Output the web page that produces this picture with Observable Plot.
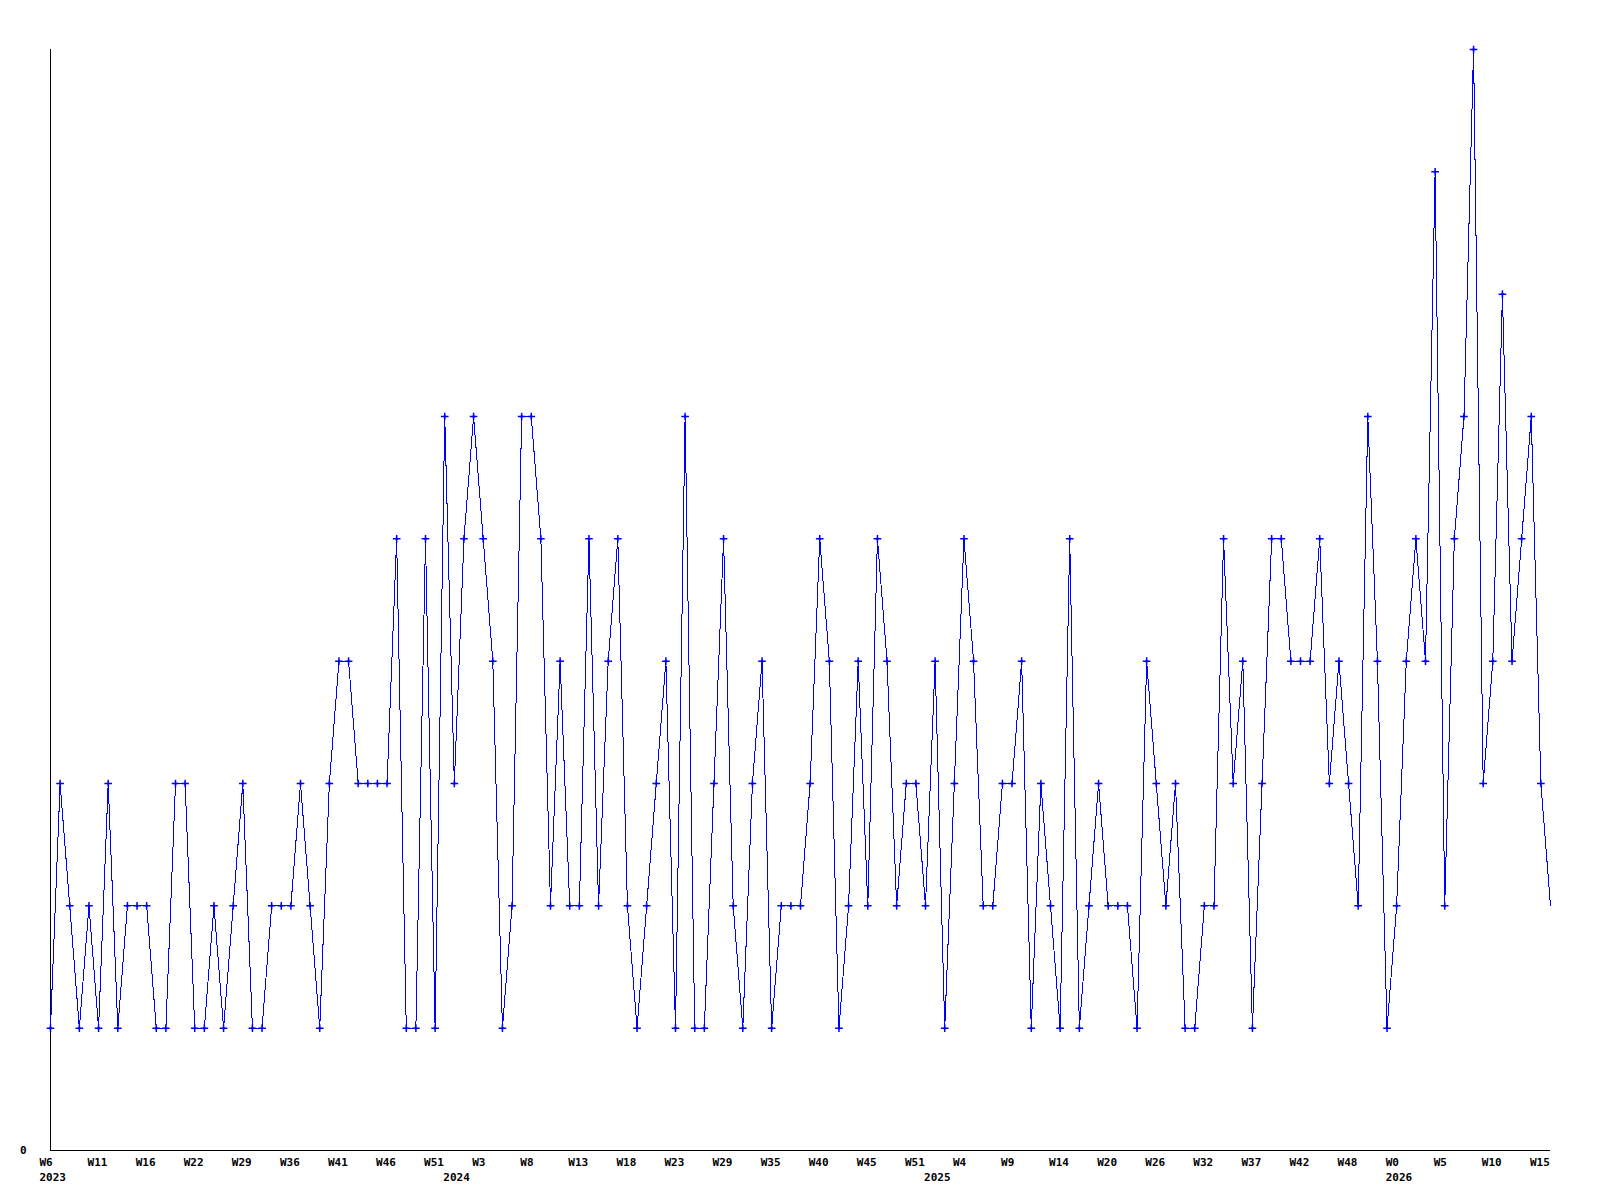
<!DOCTYPE html>
<html><head><meta charset="utf-8">
<script src="https://cdn.jsdelivr.net/npm/d3@7"></script>
<script src="https://cdn.jsdelivr.net/npm/@observablehq/plot@0.6"></script>
<style>html,body{margin:0;padding:0;background:#fff;} #chart svg{display:block}</style>
</head><body><div id="chart"></div>
<script>
// weekly counts, 2023 W6 .. 2026 W16
const counts = [
  1,3,2,1,2,1,3,1,2,2, 2,1,1,3,3,1,1,2,1,2,
  3,1,1,2,2,2,3,2,1,3, 4,4,3,3,3,3,5,1,1,5,
  1,6,3,5,6,5,4,1,2,6, 6,5,2,4,2,2,5,2,4,5,
  2,1,2,3,4,1,6,1,1,3, 5,2,1,3,4,1,2,2,2,3,
  5,4,1,2,4,2,5,4,2,3, 3,2,4,1,3,5,4,2,2,3,
  3,4,1,3,2,1,5,1,2,3, 2,2,2,1,4,3,2,3,1,1,
  2,2,5,3,4,1,3,5,5,4, 4,4,5,3,4,3,2,6,4,1,
  2,4,5,4,8,2,5,6,9,3, 4,7,4,5,6,3,2
];
const weekLabels = ["W6","W11","W16","W22","W29","W36","W41","W46","W51","W3",
  "W8","W13","W18","W23","W29","W35","W40","W45","W51","W4",
  "W9","W14","W20","W26","W32","W37","W42","W48","W0","W5","W10","W15"];
const tickStep = 5;
const yearLabels = ["2023","2024","2025","2026"];
const yearIndex = [0,42,92,140];

const data = counts.map((v, i) => ({i, v}));
const marked = data.slice(0, -1);
const tickIdx = weekLabels.map((_, k) => k * tickStep);

const plot = Plot.plot({
  width: 1600, height: 1200,
  marginLeft: 50, marginRight: 50, marginTop: 49, marginBottom: 50,
  style: {fontFamily: "'DejaVu Sans Mono', monospace", fontSize: "11px", fontWeight: "bold", background: "#fff", overflow: "visible", color: "#000"},
  x: {domain: [0, counts.length - 1]},
  y: {domain: [0, 9]},
  marks: [
    Plot.ruleY([0], {stroke: "#000", strokeWidth: 1, shapeRendering: "crispEdges"}),
    Plot.ruleX([0], {stroke: "#000", strokeWidth: 1, shapeRendering: "crispEdges"}),
    Plot.line(data, {x: "i", y: "v", stroke: "#0000ff", strokeWidth: 1, shapeRendering: "crispEdges"}),
    Plot.dot(marked, {x: "i", y: "v", symbol: "plus", r: 2.6, stroke: "#0000ff", strokeWidth: 1.5}),
    Plot.dot(marked, {x: "i", y: "v", r: 1.3, fill: "#0000ff", stroke: null}),
    Plot.axisX({ticks: tickIdx, tickFormat: d => weekLabels[tickIdx.indexOf(d)], tickSize: 0, tickPadding: 8, textAnchor: "start", dx: -11, label: null}),
    Plot.axisX({ticks: yearIndex, tickFormat: d => yearLabels[yearIndex.indexOf(d)], tickSize: 0, tickPadding: 23, textAnchor: "start", dx: -11, label: null}),
    Plot.axisY({ticks: [0], tickFormat: d => String(d), tickSize: 0, tickPadding: 24, label: null})
  ]
});
document.getElementById("chart").appendChild(plot);
</script>
</body></html>
